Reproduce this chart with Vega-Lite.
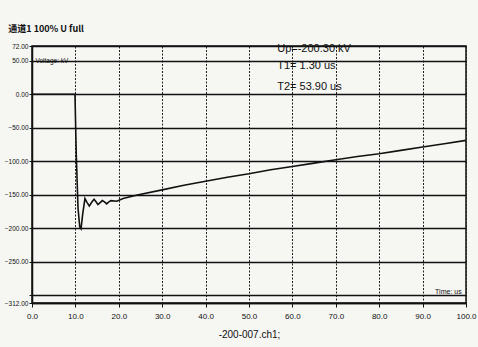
{
  "$schema": "https://vega.github.io/schema/vega-lite/v6.json",
  "width": 434,
  "height": 257,
  "autosize": {"type": "none"},
  "padding": {"left": 32, "top": 46, "right": 12, "bottom": 44},
  "background": "#f6f6f3",
  "title": {"text": "通道1   100% U full", "anchor": "start", "fontSize": 9, "font": "Noto Sans CJK SC", "fontWeight": "bold", "color": "#111", "offset": 9, "dx": 4},
  "config": {"view": {"stroke": "#111", "strokeWidth": 1.5}},
  "datasets": {
    "wave": [
      {"t": 0, "v": 0}, {"t": 9.9, "v": 0}, {"t": 10.2, "v": -90}, {"t": 10.6, "v": -170},
      {"t": 11.0, "v": -198}, {"t": 11.3, "v": -201}, {"t": 11.7, "v": -178}, {"t": 12.2, "v": -156},
      {"t": 12.7, "v": -162}, {"t": 13.2, "v": -167}, {"t": 13.8, "v": -161}, {"t": 14.3, "v": -157},
      {"t": 14.8, "v": -161}, {"t": 15.2, "v": -165}, {"t": 15.7, "v": -162}, {"t": 16.2, "v": -159},
      {"t": 16.7, "v": -161}, {"t": 17.2, "v": -164}, {"t": 17.7, "v": -161}, {"t": 18.2, "v": -159},
      {"t": 19.5, "v": -160}, {"t": 21, "v": -156}, {"t": 24, "v": -151}, {"t": 30, "v": -143},
      {"t": 35, "v": -136}, {"t": 40, "v": -130}, {"t": 45, "v": -124}, {"t": 50, "v": -119},
      {"t": 55, "v": -113}, {"t": 60, "v": -108}, {"t": 65, "v": -103}, {"t": 70, "v": -98},
      {"t": 75, "v": -93}, {"t": 80, "v": -89}, {"t": 85, "v": -84}, {"t": 90, "v": -79},
      {"t": 95, "v": -74}, {"t": 100, "v": -69}
    ],
    "params": [
      {"t": 56.5, "v": 68, "label": "Up=-200.30 kV"},
      {"t": 56.5, "v": 42, "label": "T1= 1.30 us"},
      {"t": 56.5, "v": 10, "label": "T2= 53.90 us"}
    ],
    "ylab": [{"t": 0.8, "v": 50, "label": "Voltage: kV"}],
    "xlab": [{"t": 99, "v": -296, "label": "Time: us"}]
  },
  "layer": [
    {
      "data": {"name": "wave"},
      "mark": {"type": "line", "color": "#111", "strokeWidth": 1.6},
      "encoding": {
        "x": {"field": "t", "type": "quantitative", "scale": {"domain": [0, 100], "nice": false},
          "axis": {"values": [0, 10, 20, 30, 40, 50, 60, 70, 80, 90, 100], "format": ".1f",
            "title": "-200-007.ch1;", "titleFontSize": 10, "titleFont": "Liberation Sans", "titleFontWeight": "normal", "titleColor": "#111", "titlePadding": 9,
            "labelFont": "Liberation Sans", "labelFontSize": 8, "labelFontWeight": "normal", "labelColor": "#111", "labelPadding": 5,
            "tickColor": "#111", "tickSize": 4, "domainColor": "#111", "domainWidth": 1.5, "labelOverlap": false,
            "grid": true, "gridColor": "#222", "gridDash": [2, 1.5], "gridWidth": 1, "labelFlush": false}},
        "y": {"field": "v", "type": "quantitative", "scale": {"domain": [-312, 72], "nice": false, "zero": false},
          "axis": {"values": [-312, -300, -250, -200, -150, -100, -50, 0, 50, 72],
            "labelExpr": "datum.value == -300 ? '' : format(datum.value, '.2f')",
            "title": null, "labelFont": "Liberation Sans", "labelFontSize": 6.5, "labelFontWeight": "normal", "labelColor": "#111", "labelPadding": 1,
            "tickColor": "#111", "tickSize": 3, "domainColor": "#111", "domainWidth": 1.5, "labelOverlap": false, "tickMinStep": 1, "tickCount": 20,
            "grid": true, "gridColor": "#111", "gridWidth": 1.5, "labelBound": false}}
      }
    },
    {
      "data": {"name": "params"},
      "mark": {"type": "text", "align": "left", "baseline": "middle", "font": "Liberation Sans", "fontSize": 11, "color": "#111"},
      "encoding": {"x": {"field": "t", "type": "quantitative"}, "y": {"field": "v", "type": "quantitative"}, "text": {"field": "label"}}
    },
    {
      "data": {"name": "ylab"},
      "mark": {"type": "text", "align": "left", "baseline": "middle", "font": "Liberation Sans", "fontSize": 6.5, "color": "#111"},
      "encoding": {"x": {"field": "t", "type": "quantitative"}, "y": {"field": "v", "type": "quantitative"}, "text": {"field": "label"}}
    },
    {
      "data": {"name": "xlab"},
      "mark": {"type": "text", "align": "right", "baseline": "middle", "font": "Liberation Sans", "fontSize": 7, "color": "#111"},
      "encoding": {"x": {"field": "t", "type": "quantitative"}, "y": {"field": "v", "type": "quantitative"}, "text": {"field": "label"}}
    }
  ]
}
